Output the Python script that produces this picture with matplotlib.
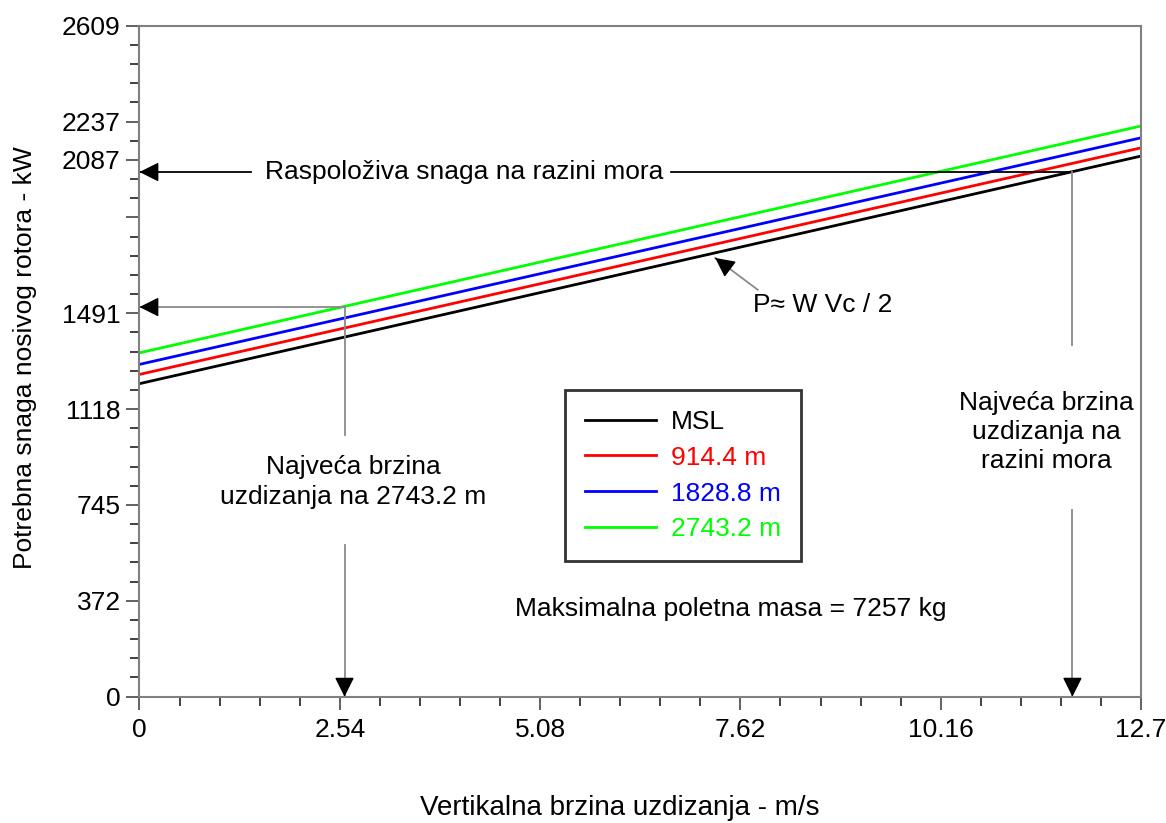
import numpy as np
import matplotlib.pyplot as plt

plt.rcParams['font.family'] = ['Liberation Sans', 'DejaVu Sans']

# data
climb = [0.0, 12.7]                      # m/s
power_msl = [1217, 2102]                 # kW
power_914 = [1253, 2134]
power_1829 = [1292, 2173]
power_2743 = [1337, 2219]
labels = ['MSL', '914.4 m', '1828.8 m', '2743.2 m']
colors = ['#000000', '#ff0000', '#0000ff', '#00ff00']

ymax = 2609
ytick_vals = [0, ymax/7, 2*ymax/7, 3*ymax/7, 4*ymax/7, 5*ymax/7, 28*ymax/35, 6*ymax/7, ymax]
ytick_labels = ['0', '372', '745', '1118', '1491', '', '2087', '2237', '2609']
xtick_vals = [0, 2.54, 5.08, 7.62, 10.16, 12.7]
xtick_labels = ['0', '2.54', '5.08', '7.62', '10.16', '12.7']

avail_msl = 2040     # available power at sea level, kW
vc_max_msl = 11.83   # max climb rate at sea level
p_2743 = 1515
vc_max_2743 = 2.6

fig = plt.figure(figsize=(11.66, 8.23), dpi=100)
ax = fig.add_axes([0.1196, 0.1535, 0.8590, 0.8153])

for vals, lab, col in zip([power_msl, power_914, power_1829, power_2743], labels, colors):
    ax.plot(climb, vals, color=col, lw=2.0, label=lab)

fs = 19
ax.set_xlim(0, 12.7)
ax.set_ylim(0, ymax)
ax.set_xticks(xtick_vals)
ax.set_xticklabels(xtick_labels)
ax.set_xticks(np.arange(0, 12.7001, 0.508), minor=True)
ax.set_yticks(ytick_vals)
ax.set_yticklabels(ytick_labels)
ax.set_yticks(np.arange(0, ymax + 1, ymax/35), minor=True)
ax.tick_params(which='major', length=9.5, width=1.3, color='#555555', labelsize=fs, pad=4)
ax.tick_params(which='minor', length=6.5, width=1.3, color='#333333')
ax.tick_params(axis='x', which='major', pad=6)
for s in ax.spines.values():
    s.set_color('#808080')
    s.set_linewidth(1.5)

gray = '#8a8a8a'


def arrow_line(x0, y0, x1, y1, color):
    # line in given colour, black filled head at (x1, y1)
    ax.plot([x0, x1], [y0, y1], color=color, lw=1.3)
    dx, dy = (x1 - x0) * 0.02, (y1 - y0) * 0.02
    ax.annotate('', xy=(x1, y1), xytext=(x1 - dx, y1 - dy),
                arrowprops=dict(arrowstyle='-|>', color='black', lw=1.0,
                                mutation_scale=30, shrinkA=0, shrinkB=0))


# available power at sea level
ax.text(1.59, avail_msl, 'Raspoloživa snaga na razini mora', fontsize=fs, va='center', ha='left')
arrow_line(1.42, avail_msl, 0, avail_msl, 'black')
ax.plot([6.74, vc_max_msl], [avail_msl, avail_msl], color='black', lw=1.3)
ax.plot([vc_max_msl, vc_max_msl], [avail_msl, 1367], color=gray, lw=1.3)
ax.text(11.5, 1029, 'Najveća brzina\nuzdizanja na\nrazini mora', fontsize=fs,
        ha='center', va='center', linespacing=1.25)
arrow_line(vc_max_msl, 726, vc_max_msl, 0, gray)

# 2743.2 m
arrow_line(vc_max_2743, p_2743, 0, p_2743, gray)
ax.plot([vc_max_2743, vc_max_2743], [p_2743, 1017], color=gray, lw=1.3)
ax.text(2.71, 836, 'Najveća brzina\nuzdizanja na 2743.2 m', fontsize=fs,
        ha='center', va='center', linespacing=1.3)
arrow_line(vc_max_2743, 590, vc_max_2743, 0, gray)

# P ~ W Vc / 2
arrow_line(7.84, 1582, 7.3, 1706, gray)
ax.text(7.78, 1522, 'P≈ W Vc / 2', fontsize=fs, ha='left', va='center')

ax.text(7.5, 341, 'Maksimalna poletna masa = 7257 kg', fontsize=fs, ha='center', va='center')

leg = ax.legend(loc='upper left', bbox_to_anchor=(0.425, 0.457), fontsize=fs,
                frameon=True, fancybox=False, labelcolor='linecolor',
                handlelength=2.7, handletextpad=0.55, labelspacing=0.45,
                borderpad=0.75, borderaxespad=0)
leg.get_frame().set_edgecolor('black')
leg.get_frame().set_linewidth(2.0)

fig.text(620/1166, 1 - 808/823, 'Vertikalna brzina uzdizanja - m/s', fontsize=fs + 1,
         ha='center', va='center')
fig.text(25/1166, 1 - 358/823, 'Potrebna snaga nosivog rotora - kW', fontsize=fs,
         ha='center', va='center', rotation=90)

fig.savefig('out.png', dpi=100)
